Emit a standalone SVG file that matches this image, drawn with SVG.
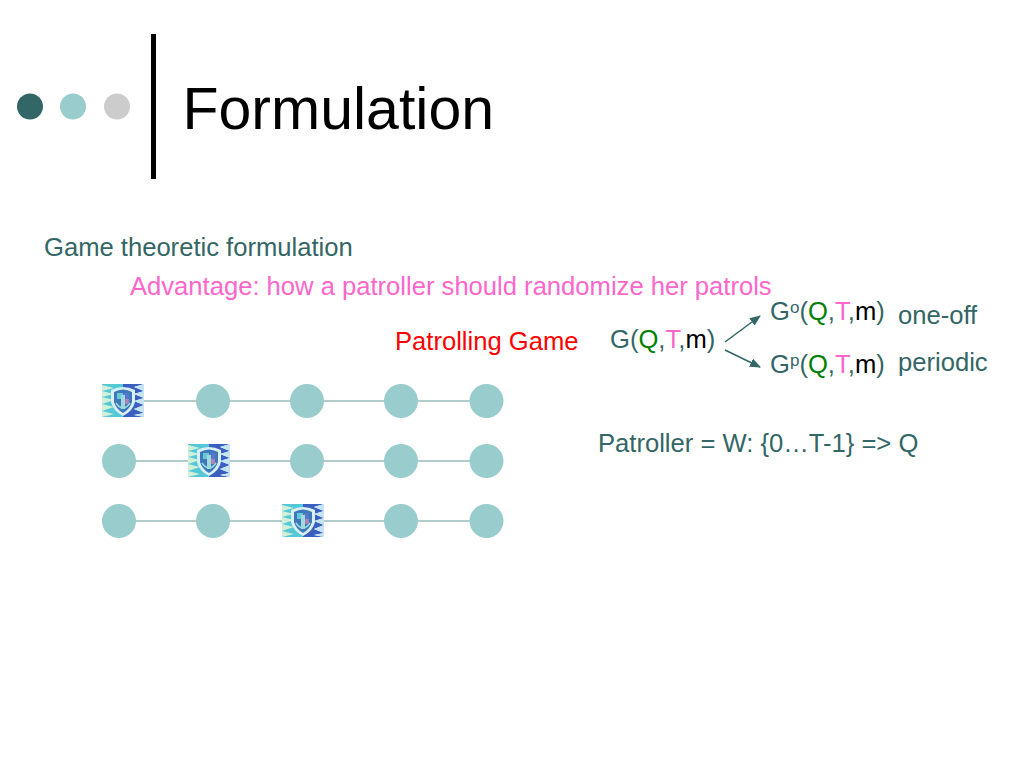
<svg xmlns="http://www.w3.org/2000/svg" width="1024" height="768" viewBox="0 0 1024 768">
<style>
text{font-family:"Liberation Sans",Arial,sans-serif;font-size:25.6px;fill:#336666}
.g{fill:#008000}.p{fill:#ff66cc}.k{fill:#000}
.n{fill:#99cccc}
.e{stroke:#669999;stroke-width:1.2;fill:none}
.a{stroke:#336666;stroke-width:1.5;fill:none;marker-end:url(#ah)}
</style>
<defs>
<marker id="ah" markerWidth="11" markerHeight="9" refX="10" refY="4.500" orient="auto" markerUnits="userSpaceOnUse"><path d="M0 0L11 4.500L0 9Z" fill="#336666"/></marker>
<g id="badge">
<rect x="0" y="0" width="21" height="33" fill="#55c8d8"/>
<path d="M0 1L12 4L0 7L12 10L0 13L12 16L0 20L12 23L0 27L12 30L0 33Z" fill="#d0f0d8"/>
<path d="M21 0H42L32 3L42 7L32 10L42 14L32 17L42 21L32 25L42 29L32 31L42 33H21Z" fill="#3a5fc0"/>
<path d="M32 3L42 7L32 10L42 14L32 17L42 21L32 25L42 29L32 31L42 33V0H42Z" fill="#c4e4f4"/>
<path d="M9 6Q21 0 33 6V18Q31 27 21 32Q11 27 9 18Z" fill="#d8f0f4"/>
<path d="M12 8Q21 3 30 8V18Q28 25 21 29Q14 25 12 18Z" fill="#3f78b8"/>
<path d="M15 9H21V15H15Z" fill="#66c8d8"/>
<path d="M22 9H27V15H22Z" fill="#5577cc"/>
<path d="M19 11H23V25H19Z" fill="#a0d8e0"/>
<path d="M14 19Q21 29 28 19" stroke="#99dde0" stroke-width="1.500" fill="none"/>
<path d="M23 15H27V20H23Z" fill="#b080b8"/>
</g>
</defs>
<g id="header">
<circle cx="30" cy="106.500" r="13" fill="#336666"/>
<circle cx="73" cy="106.500" r="13" fill="#99cccc"/>
<circle cx="117" cy="106.500" r="13" fill="#cccccc"/>
<rect x="151" y="34" width="5" height="145" fill="#000"/>
<text x="182.500" y="129" style="font-size:59px" class="k">Formulation</text>
</g>
<g id="labels">
<text x="44" y="256">Game theoretic formulation</text>
<text x="130" y="295" class="p">Advantage: how a patroller should randomize her patrols</text>
<text x="395" y="350" style="fill:#ff0000">Patrolling Game</text>
<text x="610" y="348">G(<tspan class="g">Q</tspan>,<tspan class="p">T</tspan>,<tspan class="k">m</tspan>)</text>
<text x="770" y="320">G<tspan dy="-7" style="font-size:17px">o</tspan><tspan dy="7">(</tspan><tspan class="g">Q</tspan>,<tspan class="p">T</tspan>,<tspan class="k">m</tspan>)</text>
<text x="770" y="373">G<tspan dy="-7" style="font-size:17px">p</tspan><tspan dy="7">(</tspan><tspan class="g">Q</tspan>,<tspan class="p">T</tspan>,<tspan class="k">m</tspan>)</text>
<text x="898" y="324">one-off</text>
<text x="898" y="371">periodic</text>
<text x="598" y="452">Patroller = W: {0…T-1} =&gt; Q</text>
</g>
<g id="connectors">
<path class="a" d="M725 342L760 316"/>
<path class="a" d="M725 350L760 367"/>
<path class="e" d="M123 401H487M119 461H487M119 521H487"/>
</g>
<g id="row1">
<use href="#badge" x="102" y="384"/>
<circle class="n" cx="213" cy="401" r="17"/><circle class="n" cx="307" cy="401" r="17"/><circle class="n" cx="401" cy="401" r="17"/><circle class="n" cx="486.500" cy="401" r="17"/>
</g>
<g id="row2">
<circle class="n" cx="119" cy="461" r="17"/>
<use href="#badge" x="188" y="444"/>
<circle class="n" cx="307" cy="461" r="17"/><circle class="n" cx="401" cy="461" r="17"/><circle class="n" cx="486.500" cy="461" r="17"/>
</g>
<g id="row3">
<circle class="n" cx="119" cy="521" r="17"/><circle class="n" cx="213" cy="521" r="17"/>
<use href="#badge" x="282" y="504"/>
<circle class="n" cx="401" cy="521" r="17"/><circle class="n" cx="486.500" cy="521" r="17"/>
</g>
</svg>
